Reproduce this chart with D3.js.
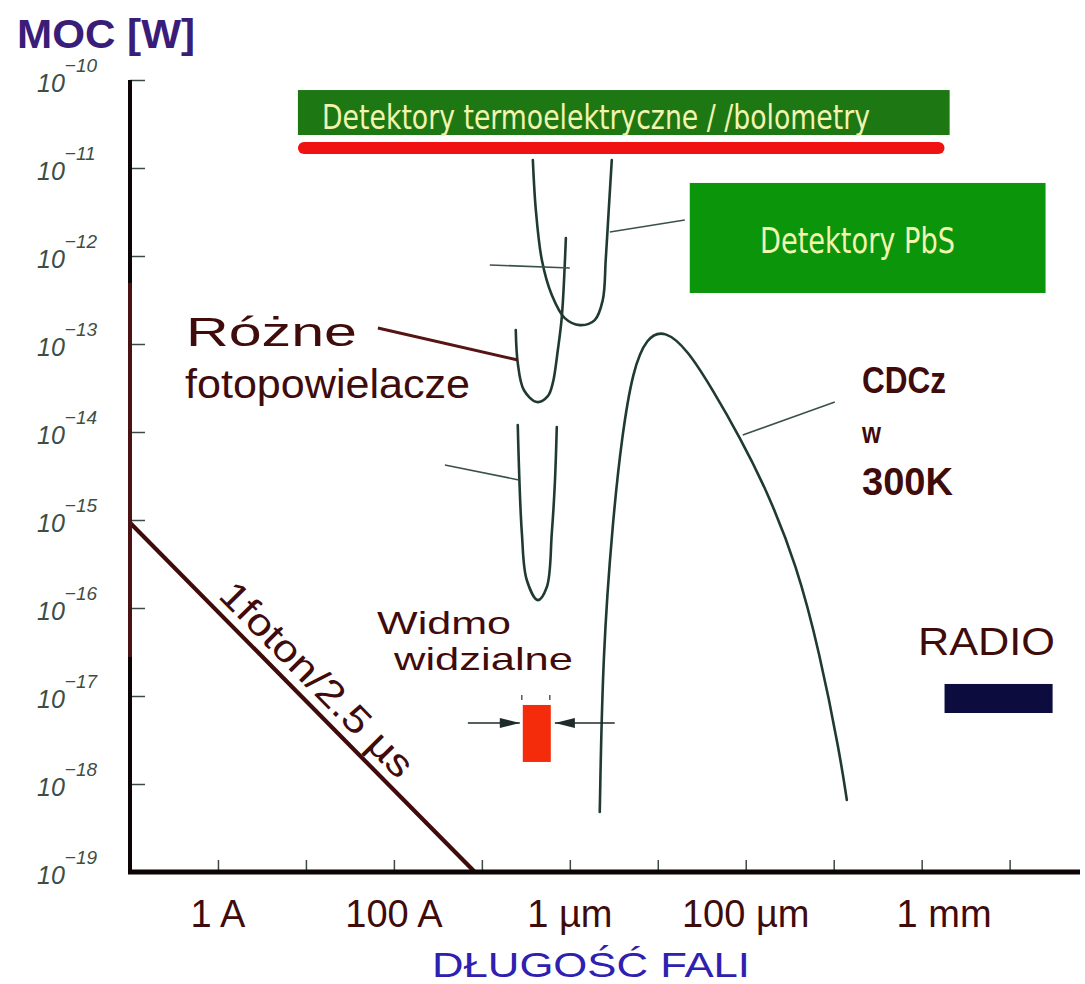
<!DOCTYPE html>
<html><head><meta charset="utf-8">
<script src="https://cdn.jsdelivr.net/npm/d3@7"></script>
<style>body{margin:0;background:#fff}svg{display:block}</style>
</head><body><svg id="c" width="1085" height="984"></svg>
<script>
// ---------- data (wavelength in m, power in W) ----------
const yTickValues = [1e-10,1e-11,1e-12,1e-13,1e-14,1e-15,1e-16,1e-17,1e-18,1e-19];
const yTickExponents = ["−10","−11","−12","−13","−14","−15","−16","−17","−18","−19"];
const xTickValues = [1e-10,1e-9,1e-8,1e-7,1e-6,1e-5,1e-4,1e-3,1e-2,1e-1];
const xLabelValues = [1e-10,1e-8,1e-6,1e-4,1.8e-2];
const xLabels = ["1 A","100 A","1 µm","100 µm","1 mm"];

const pbsCurve = [[3.80e-7,1.23e-11],[4.11e-7,3.33e-12],[4.81e-7,9.02e-13],[6.24e-7,3.61e-13],
  [8.77e-7,1.97e-13],[1.30e-6,1.64e-13],[1.92e-6,1.87e-13],[2.37e-6,3.16e-13],[2.56e-6,9.02e-13],
  [2.77e-6,3.33e-12],[3.00e-6,1.23e-11]];
const pmtUpperCurve = [[2.43e-7,1.44e-13],[2.56e-7,6.08e-14],[3.00e-7,3.00e-14],[4.22e-7,2.19e-14],
  [5.62e-7,2.56e-14],[6.41e-7,3.61e-14],[7.31e-7,8.55e-14],[8.11e-7,2.03e-13],[9.02e-7,1.60e-12]];
const pmtLowerCurve = [[2.56e-7,1.20e-14],[2.85e-7,7.11e-16],[3.24e-7,2.08e-16],[4.33e-7,1.23e-16],
  [5.48e-7,1.73e-16],[6.24e-7,7.11e-16],[6.76e-7,2.63e-15],[7.11e-7,1.14e-14]];
const cdczCurve = [[2.19e-6,4.81e-19],[2.19e-6,4.81e-19],[2.37e-6,3.08e-17],[3.08e-6,1e-15],[3.90e-6,8.77e-15],
  [5.20e-6,5.07e-14],[7.50e-6,1.20e-13],[1.20e-5,1.45e-13],[2.19e-5,8.55e-14],[4.22e-5,3.00e-14],
  [8.55e-5,8.77e-15],[1.73e-4,2.19e-15],[3.80e-4,3.08e-16],[6.93e-4,3.08e-17],[1.17e-3,2.25e-18],
  [1.41e-3,6.58e-19],[1.41e-3,6.58e-19]];
const photonLine = [[1e-11,9.3e-16],[8.32e-8,1e-19]];

// bands: [lambdaMin, lambdaMax, powerTop, powerBottom]
const thermoBand = [8.11e-10, 2.08e-2, 7.69e-11, 2.37e-11];
const thermoRedBar = [8.11e-10, 1.82e-2, 1.97e-11, 1.44e-11];
const pbsBand = [2.31e-5, 2.56e-1, 6.76e-12, 3.80e-13];
const radioBand = [1.82e-2, 3.08e-1, 1.37e-17, 6.41e-18];
const visibleBand = [2.92e-7, 6.08e-7, 7.91e-18, 1.78e-18];
const visibleArrowPower = 4.93e-18;
const visibleArrowLeft = [6.93e-8, 2.70e-7];   // from, tip
const visibleArrowRight = [3.24e-6, 6.76e-7];  // from, tip

// leader lines
const leaderPbs = [[2.85e-6,1.87e-12],[2.03e-5,2.56e-12]];
const leaderFlat = [[1.23e-7,7.91e-13],[1e-6,7.31e-13]];
const leaderRozne = [[6.58e-9,1.52e-13],[2.56e-7,6.58e-14]];
const leaderLower = [[3.80e-8,4.22e-15],[2.63e-7,2.85e-15]];
const leaderCdcz = [[9.25e-5,9.25e-15],[1.03e-3,2.19e-14]];

// ---------- drawing ----------
const svg = d3.select("#c");
const x = d3.scaleLog().domain([1e-11, 0.631]).range([130, 1080]);
const y = d3.scaleLog().domain([1e-10, 1e-19]).range([80, 872]);

const curveCol = "#1f3a33", maroon = "#3f0b0b";
const line = d3.line().x(d => x(d[0])).y(d => y(d[1])).curve(d3.curveCatmullRom.alpha(0.5));
const smooth = d3.line().x(d => x(d[0])).y(d => y(d[1])).curve(d3.curveBasis);
const straight = d3.line().x(d => x(d[0])).y(d => y(d[1]));

function band(b, fill, rx) {
  return svg.append("rect").attr("x", x(b[0])).attr("y", y(b[2]))
    .attr("width", x(b[1]) - x(b[0])).attr("height", y(b[3]) - y(b[2]))
    .attr("fill", fill).attr("rx", rx || 0);
}
band(thermoBand, "#1d7813");
band(thermoRedBar, "#f01212", 6);
band(pbsBand, "#0b950b");
band(radioBand, "#0d0c3e");
band(visibleBand, "#f52c0c");

// curves
[pbsCurve, pmtUpperCurve, pmtLowerCurve].forEach(c =>
  svg.append("path").attr("d", line(c)).attr("fill", "none")
    .attr("stroke", curveCol).attr("stroke-width", 2.6).attr("stroke-linecap", "round"));
svg.append("path").attr("d", smooth(cdczCurve)).attr("fill", "none")
  .attr("stroke", curveCol).attr("stroke-width", 2.6).attr("stroke-linecap", "round");

// leaders
[leaderPbs, leaderFlat, leaderLower, leaderCdcz].forEach(l =>
  svg.append("path").attr("d", straight(l)).attr("stroke", "#3b5249").attr("stroke-width", 1.6));
svg.append("path").attr("d", straight(leaderRozne)).attr("stroke", "#561414").attr("stroke-width", 3);

// photon line
svg.append("path").attr("d", straight(photonLine)).attr("stroke", maroon).attr("stroke-width", 4.2);

// visible spectrum arrows
const ay = y(visibleArrowPower);
svg.append("line").attr("x1", x(visibleArrowLeft[0])).attr("x2", x(visibleArrowLeft[1]))
  .attr("y1", ay).attr("y2", ay).attr("stroke", "#1f2a2a").attr("stroke-width", 1.6);
svg.append("line").attr("x1", x(visibleArrowRight[0])).attr("x2", x(visibleArrowRight[1]))
  .attr("y1", ay).attr("y2", ay).attr("stroke", "#1f2a2a").attr("stroke-width", 1.6);
const tl = x(visibleArrowLeft[1]), tr = x(visibleArrowRight[1]);
svg.append("path").attr("d", `M${tl},${ay}L${tl-20},${ay-5}L${tl-20},${ay+5}Z`).attr("fill", "#1f2a2a");
svg.append("path").attr("d", `M${tr},${ay}L${tr+20},${ay-5}L${tr+20},${ay+5}Z`).attr("fill", "#1f2a2a");
[visibleBand[0], visibleBand[1]].forEach(v =>
  svg.append("line").attr("x1", x(v) - 1).attr("x2", x(v) - 1)
    .attr("y1", y(visibleBand[2]) - 10).attr("y2", y(visibleBand[2]) - 5)
    .attr("stroke", "#4a5a7a").attr("stroke-width", 1.5));

// axes
const yAxis = d3.axisRight(y).tickValues(yTickValues).tickSize(15).tickSizeOuter(0).tickFormat("");
const gy = svg.append("g").attr("transform", "translate(130,0)").call(yAxis);
gy.select(".domain").remove();
gy.selectAll(".tick line").attr("stroke", "#3a4a44").attr("stroke-width", 1.5);

const xAxis = d3.axisBottom(x).tickValues(xTickValues).tickSize(-12).tickSizeOuter(0).tickFormat("");
const gx = svg.append("g").attr("transform", "translate(0,872)").call(xAxis);
gx.select(".domain").remove();
gx.selectAll(".tick line").attr("stroke", "#3a4a44").attr("stroke-width", 1.5);

svg.append("line").attr("x1", 130).attr("x2", 130).attr("y1", y(1e-10)).attr("y2", 874)
  .attr("stroke", "#0d0505").attr("stroke-width", 4);
svg.append("line").attr("x1", 130).attr("x2", 130).attr("y1", 283).attr("y2", 657)
  .attr("stroke", "#4a1212").attr("stroke-width", 4);
svg.append("line").attr("x1", 128).attr("x2", 1080).attr("y1", 872).attr("y2", 872)
  .attr("stroke", "#0d0505").attr("stroke-width", 5);

// y tick labels
yTickValues.forEach((v, i) => {
  const t = svg.append("text").attr("x", 37).attr("y", y(v) + 12)
    .attr("font-family", "Liberation Sans, Arial, sans-serif").attr("font-style", "italic")
    .attr("fill", "#3d4e46").attr("font-size", 25);
  t.append("tspan").text("10");
  t.append("tspan").attr("dy", -20).attr("font-size", 19).text(yTickExponents[i]);
});

// x tick labels
const sans = "Liberation Sans, Arial, Helvetica, sans-serif";
xLabels.forEach((s, i) => {
  svg.append("text").attr("x", x(xLabelValues[i])).attr("y", 927)
    .attr("text-anchor", "middle").attr("font-family", sans).attr("font-size", 38)
    .attr("fill", maroon).text(s);
});

function txt(s, px, py, size, fill, opts) {
  opts = opts || {};
  const t = svg.append("text").attr("x", px).attr("y", py).attr("font-family", opts.family || sans)
    .attr("font-size", size).attr("fill", fill).text(s);
  if (opts.len) t.attr("textLength", opts.len).attr("lengthAdjust", "spacingAndGlyphs");
  if (opts.weight) t.attr("font-weight", opts.weight);
  if (opts.anchor) t.attr("text-anchor", opts.anchor);
  return t;
}
const narrow = "Liberation Sans Narrow, DejaVu Sans Condensed, Arial, sans-serif";

txt("MOC [W]", 17, 48, 40, "#3a1d78", {len: 178, weight: "bold"});
txt("DŁUGOŚĆ FALI", 432, 977, 35, "#2e20b0", {len: 318});
txt("Detektory termoelektryczne / /bolometry", 322, 129, 34, "#f2f4b0", {family: narrow, len: 548});
txt("Detektory PbS", 760, 253, 36, "#f2f4b0", {family: narrow, len: 195});
txt("Różne", 186, 346, 40, maroon, {len: 171});
txt("fotopowielacze", 185, 398, 40, maroon, {len: 285});
txt("Widmo", 377, 634, 32, maroon, {len: 134});
txt("widzialne", 394, 670, 32, maroon, {len: 179});
txt("CDCz", 862, 393, 36, maroon, {weight: "bold", len: 84});
txt("w", 862, 443, 30, maroon, {weight: "bold", len: 19});
txt("300K", 862, 495, 38, maroon, {weight: "bold", len: 91});
txt("RADIO", 918, 655, 38, maroon, {len: 137});

// rotated photon label
const p0 = [x(photonLine[0][0]), y(photonLine[0][1])], p1 = [x(photonLine[1][0]), y(photonLine[1][1])];
const ang = Math.atan2(p1[1] - p0[1], p1[0] - p0[0]);
const sx = 210, sy = p0[1] + (sx - p0[0]) * Math.tan(ang);
const off = 10;
const bx = sx + off * Math.sin(ang), by = sy - off * Math.cos(ang);
svg.append("text").attr("transform", `translate(${bx},${by}) rotate(${ang * 180 / Math.PI})`)
  .attr("font-family", sans).attr("font-size", 38).attr("fill", maroon)
  .attr("textLength", 258).attr("lengthAdjust", "spacingAndGlyphs").text("1foton/2.5 µs");
</script></body></html>
